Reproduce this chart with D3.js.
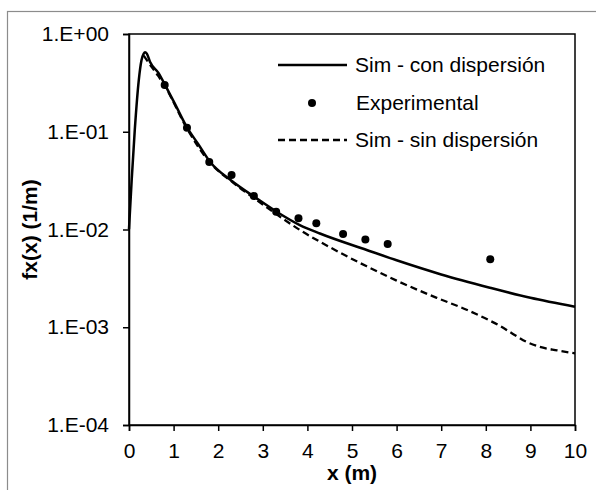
<!DOCTYPE html>
<html><head><meta charset="utf-8">
<script src="https://cdn.jsdelivr.net/npm/d3@7"></script>
<style>body{margin:0;background:#fff}svg{display:block}text{font-family:"Liberation Sans",Arial,sans-serif}</style>
</head><body><svg id="c" width="596" height="490"></svg>
<script>
const xTicks = [0,1,2,3,4,5,6,7,8,9,10];
const yTicks = [1,0.1,0.01,0.001,0.0001];
const yTickLabels = ["1.E+00","1.E-01","1.E-02","1.E-03","1.E-04"];
const simConX = [0,0.06,0.13,0.22,0.28,0.33,0.36,0.40,0.47,0.66,0.81,1.05,1.29,1.55,1.82,2.3,2.83,3.31,3.83,4.28,5.33,6.0,7.0,8.09,9.0,10];
const simConY = [0.0101,0.032,0.105,0.34,0.54,0.63,0.65,0.63,0.52,0.40,0.30,0.185,0.113,0.075,0.049,0.0315,0.0213,0.0152,0.0111,0.0091,0.00617,0.00484,0.00347,0.00254,0.00200,0.00162];
const expX = [0.8,1.3,1.8,2.3,2.8,3.3,3.8,4.2,4.8,5.3,5.8,8.1];
const expY = [0.30,0.11,0.049,0.036,0.022,0.0152,0.013,0.0116,0.0090,0.0079,0.0071,0.00495];
const simSinX = [0.33,0.45,0.66,0.81,1.29,1.82,2.3,2.83,3.31,3.83,4.5,5.33,6.0,6.9,7.57,8.09,8.32,8.6,8.91,9.21,9.6,10];
const simSinY = [0.60,0.50,0.37,0.29,0.11,0.048,0.031,0.0205,0.0143,0.0099,0.0066,0.0042,0.0030,0.0020,0.00151,0.00117,0.00103,0.00086,0.00071,0.00063,0.00058,0.00054];
const legendLabels = ["Sim - con dispersión","Experimental","Sim - sin dispersión"];

const svg = d3.select("#c");
const fs = 21;
svg.append("rect").attr("x",7.5).attr("y",11.5).attr("width",800).attr("height",800)
  .attr("fill","none").attr("stroke","#8c8c8c").attr("stroke-width",1.2);

const L=129,R=575,T=34,B=425;
const x = d3.scaleLinear().domain([0,10]).range([L,R]);
const y = d3.scaleLog().domain([1e-4,1]).range([B,T]);

svg.append("rect").attr("x",L).attr("y",T).attr("width",R-L).attr("height",B-T)
  .attr("fill","none").attr("stroke","#000").attr("stroke-width",1.5);

const xa = svg.append("g").attr("transform",`translate(0,${B})`)
  .call(d3.axisBottom(x).tickValues(xTicks).tickFormat(d3.format("d")).tickSizeOuter(0).tickSize(6).tickPadding(12));
const ya = svg.append("g").attr("transform",`translate(${L},0)`)
  .call(d3.axisLeft(y).tickValues(yTicks).tickFormat((d,i)=>yTickLabels[i]).tickSizeOuter(0).tickSize(6).tickPadding(14));
[xa,ya].forEach(a=>{
  a.select(".domain").attr("stroke","#000").attr("stroke-width",1.5);
  a.selectAll(".tick line").attr("stroke","#000").attr("stroke-width",1.5);
  a.selectAll("text").attr("font-size",fs).attr("fill","#000").style("font-family","'Liberation Sans',Arial,sans-serif");
});

const line = d3.line().x(d=>x(d[0])).y(d=>y(d[1])).curve(d3.curveMonotoneX);
const con = simConX.map((v,i)=>[v,simConY[i]]);
const sin = simSinX.map((v,i)=>[v,simSinY[i]]);
svg.append("path").datum(sin).attr("d",line).attr("fill","none").attr("stroke","#000")
  .attr("stroke-width",2.3).attr("stroke-dasharray","7,4");
svg.append("path").datum(con).attr("d",line).attr("fill","none").attr("stroke","#000")
  .attr("stroke-width",2.5);
svg.selectAll(".dot").data(expX.map((v,i)=>[v,expY[i]])).enter().append("circle")
  .attr("cx",d=>x(d[0])).attr("cy",d=>y(d[1])).attr("r",4).attr("fill","#000");

svg.append("text").attr("x",(L+R)/2).attr("y",480).attr("text-anchor","middle")
  .attr("font-size",fs).attr("font-weight","bold").text("x (m)");
svg.append("text").attr("transform",`translate(37,${(T+B)/2}) rotate(-90)`).attr("text-anchor","middle")
  .attr("font-size",fs).attr("font-weight","bold").text("fx(x) (1/m)");

const lg = svg.append("g");
lg.append("line").attr("x1",278).attr("x2",347).attr("y1",65).attr("y2",65).attr("stroke","#000").attr("stroke-width",2.5);
lg.append("circle").attr("cx",312).attr("cy",103).attr("r",4).attr("fill","#000");
lg.append("line").attr("x1",278).attr("x2",347).attr("y1",140).attr("y2",140).attr("stroke","#000").attr("stroke-width",2.3).attr("stroke-dasharray","7,4");
[65,103,140].forEach((yy,i)=>{
  lg.append("text").attr("x",i==1?356:355).attr("y",yy).attr("dy","0.35em").attr("font-size",fs).attr("fill","#000").text(legendLabels[i]);
});
</script></body></html>
